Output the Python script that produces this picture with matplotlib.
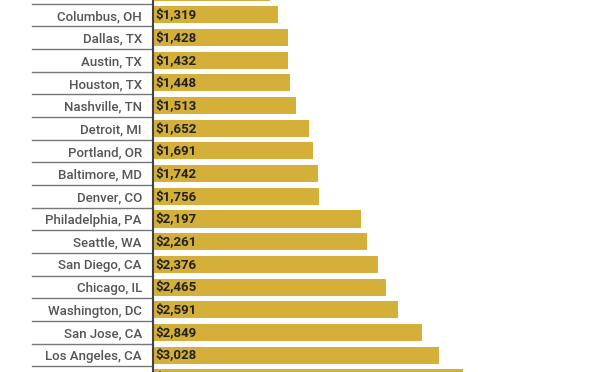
import matplotlib.pyplot as plt
from matplotlib.transforms import blended_transform_factory

cities = ["", "Columbus, OH", "Dallas, TX", "Austin, TX", "Houston, TX", "Nashville, TN",
          "Detroit, MI", "Portland, OR", "Baltimore, MD", "Denver, CO", "Philadelphia, PA",
          "Seattle, WA", "San Diego, CA", "Chicago, IL", "Washington, DC", "San Jose, CA",
          "Los Angeles, CA", ""]
rents = [1238, 1319, 1428, 1432, 1448, 1513, 1652, 1691, 1742, 1756, 2197, 2261, 2376,
         2465, 2591, 2849, 3028, 3280]

plt.rcParams["font.family"] = ["Roboto", "DejaVu Sans"]

fig = plt.figure(figsize=(6.16, 3.72), dpi=100)
ax = fig.add_axes([153 / 616, 0, (616 - 153) / 616, 1])

ypos = list(range(len(cities)))
ax.barh(ypos, rents, height=0.75, color="#D4AF3A", zorder=2)

for i, v in zip(ypos, rents):
    ax.text(22, i, "${:,}".format(v), va="center", ha="left", fontsize=9.5,
            fontweight="bold", color="#222222", clip_on=True, zorder=3)

ax.set_yticks(ypos)
ax.set_yticklabels(cities, fontsize=9.5, color="#555555", fontweight="medium")
ax.tick_params(axis="y", length=0, pad=8)
ax.set_xticks([])

# limits set after the ticks, since set_yticks widens the view
ax.set_xlim(0, 463 / 0.0945)
ax.set_ylim((372 + 7.7) / 22.67, 7.7 / 22.67)

trans = blended_transform_factory(ax.transAxes, ax.transData)
for i in ypos[:-1]:
    ax.plot([-121 / 463, 0], [i + 0.5, i + 0.5], transform=trans, color="#777777",
            lw=1.0, clip_on=False)

for side in ["top", "right", "bottom"]:
    ax.spines[side].set_visible(False)
ax.spines["left"].set_color("#444444")
ax.spines["left"].set_linewidth(1.5)

fig.savefig("out.png", dpi=100)
